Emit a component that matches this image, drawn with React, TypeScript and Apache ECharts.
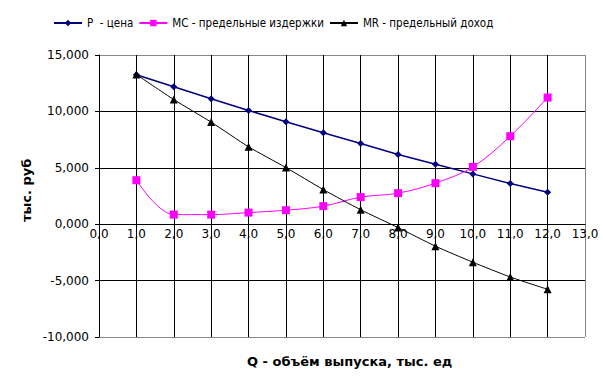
import React, { useEffect, useRef } from "react";
import * as echarts from "echarts";

const qValues = [1, 2, 3, 4, 5, 6, 7, 8, 9, 10, 11, 12];
const pValues = [13.25, 12.18, 11.12, 10.08, 9.08, 8.1, 7.15, 6.18, 5.32, 4.46, 3.6, 2.84];
const mcValues = [3.9, 0.85, 0.85, 1.03, 1.24, 1.6, 2.4, 2.75, 3.64, 5.08, 7.8, 11.23];
const mrValues = [13.27, 11.05, 9.05, 6.86, 5.02, 3.07, 1.28, -0.3, -1.95, -3.37, -4.68, -5.77];

const seriesNames = ["P  - цена", "MC - предельные издержки", "MR - предельный доход"];
const xAxisTitle = "Q - объём выпуска, тыс. ед";
const yAxisTitle = "тыс. руб";

const FONT = "DejaVu Sans";
const LEGEND_FONT = "'DejaVu Sans Condensed', 'DejaVu Sans'";

const Y_MIN = -10;
const Y_MAX = 15;
const GRID_TOP = 55;
const GRID_BOTTOM = 52;
const HEIGHT = 389;

export default function App() {
  const ref = useRef<HTMLDivElement>(null);
  useEffect(() => {
    if (!ref.current) return;
    const chart = echarts.init(ref.current, undefined, { renderer: "svg" });
    const pair = (ys: number[]) => qValues.map((q, i) => [q, ys[i]]);
    const xColors = Array.from({ length: 14 }, (_, i) => (i === 13 ? "#888888" : "#000000"));
    const yColors = ["#888888", "#000000", "#000000", "#000000", "#000000", "#888888"];
    const gridH = HEIGHT - GRID_TOP - GRID_BOTTOM;
    const zeroOffset = -gridH * (0 - Y_MIN) / (Y_MAX - Y_MIN);
    chart.setOption({
      animation: false,
      backgroundColor: "#ffffff",
      textStyle: { fontFamily: FONT },
      legend: {
        top: 12,
        left: 48,
        itemWidth: 28,
        itemHeight: 8,
        itemGap: 5,
        textStyle: { fontFamily: LEGEND_FONT, fontSize: 11.5, color: "#000" },
        data: seriesNames,
      },
      grid: { left: 99, right: 18, top: GRID_TOP, bottom: GRID_BOTTOM },
      xAxis: {
        type: "value",
        min: 0,
        max: 13,
        interval: 1,
        position: "bottom",
        offset: zeroOffset,
        axisLine: { onZero: false, lineStyle: { color: "#000", width: 1 } },
        axisTick: { show: false },
        axisLabel: {
          color: "#000",
          fontSize: 12,
          fontFamily: FONT,
          margin: 4,
          formatter: (v: number) => v.toFixed(1).replace(".", ","),
        },
        splitLine: { show: true, lineStyle: { color: xColors, width: 1 } },
      },
      yAxis: {
        type: "value",
        min: Y_MIN,
        max: Y_MAX,
        interval: 5,
        axisLine: { show: true, onZero: false, lineStyle: { color: "#000", width: 1 } },
        axisTick: { show: true, inside: false, length: 4, lineStyle: { color: "#000" } },
        axisLabel: {
          color: "#000",
          fontSize: 12,
          fontFamily: FONT,
          margin: 10,
          formatter: (v: number) => v.toFixed(3).replace(".", ","),
        },
        splitLine: { show: true, lineStyle: { color: yColors, width: 1 } },
      },
      graphic: [
        {
          type: "text",
          left: 247,
          top: 355,
          style: { text: xAxisTitle, fontFamily: FONT, fontSize: 13, fontWeight: "bold", fill: "#000" },
        },
        {
          type: "text",
          x: 20,
          y: 222,
          rotation: Math.PI / 2,
          style: { text: yAxisTitle, fontFamily: FONT, fontSize: 13, fontWeight: "bold", fill: "#000" },
        },
      ],
      series: [
        {
          name: seriesNames[0],
          type: "line",
          data: pair(pValues),
          symbol: "diamond",
          symbolSize: 7,
          lineStyle: { color: "#000080", width: 1.5 },
          itemStyle: { color: "#000080" },
          z: 3,
        },
        {
          name: seriesNames[1],
          type: "line",
          data: pair(mcValues),
          smooth: 0.35,
          symbol: "rect",
          symbolSize: 8,
          lineStyle: { color: "#ff00ff", width: 1 },
          itemStyle: { color: "#ff00ff" },
          z: 4,
        },
        {
          name: seriesNames[2],
          type: "line",
          data: pair(mrValues),
          smooth: 0.2,
          symbol: "triangle",
          symbolSize: 8,
          lineStyle: { color: "#000000", width: 1 },
          itemStyle: { color: "#000000" },
          z: 5,
        },
      ],
    });
    return () => chart.dispose();
  }, []);
  return <div ref={ref} style={{ width: 603, height: 389, position: "absolute", left: 0, top: 0 }} />;
}
